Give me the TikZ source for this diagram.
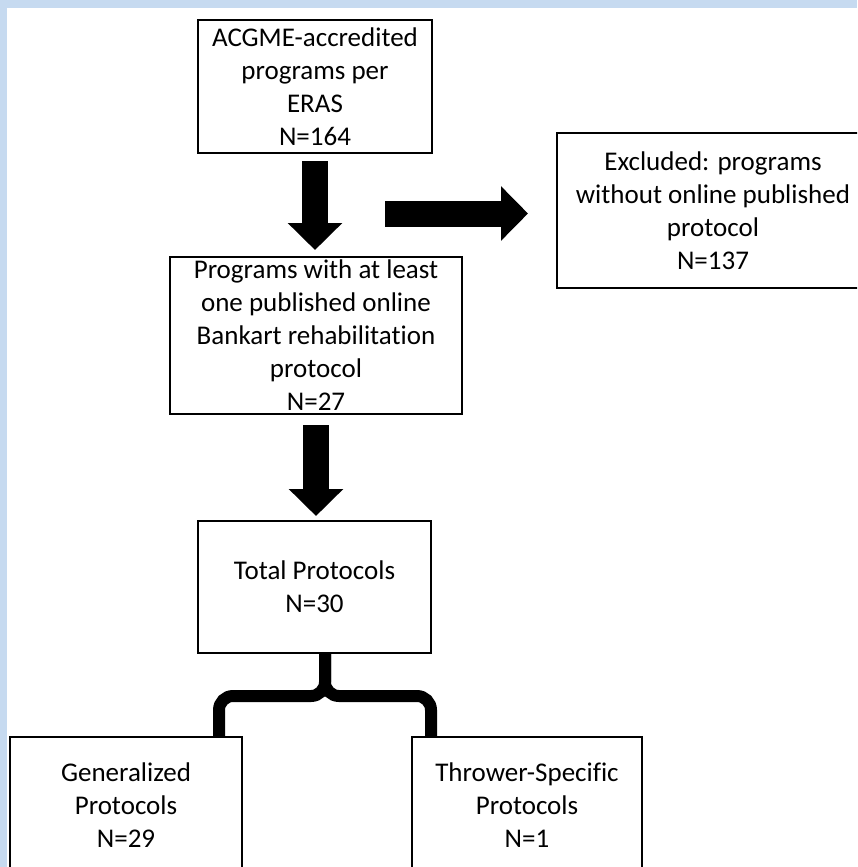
\documentclass[tikz,border=0pt]{standalone}
\usepackage{fontspec}
\setmainfont[Ligatures={NoCommon}]{Carlito}
\usetikzlibrary{arrows.meta}
\definecolor{bgblue}{RGB}{198,218,240}
\begin{document}
\begin{tikzpicture}[x=1pt,y=-1pt,
  box/.style={draw, line width=2pt, inner sep=0pt, align=center,
    font=\fontsize{27}{33}\selectfont, text=black},
  blockarrow/.style={line width=26pt, -{Triangle[length=27pt,width=53pt]}},
  bracelink/.style={line width=12pt, rounded corners=14pt}]
\fill[bgblue] (0,0) rectangle (857,867);
\fill[white] (7,8) rectangle (857,867);
\useasboundingbox (0,0) rectangle (857,867);
\clip (0,0) rectangle (857,867);

\node[box, minimum width=234pt, minimum height=133pt] (acgme) at (315,86.5)
  {ACGME-accredited\\programs per\\ERAS\\N=164};
\node[box, minimum width=292pt, minimum height=157pt] (prog) at (316,335.5)
  {Programs with at least\\one published online\\Bankart rehabilitation\\protocol\\N=27};
\node[box, minimum width=312pt, minimum height=155pt] (excl) at (713,210.5)
  {Excluded: programs\\without online published\\protocol\\N=137};
\node[box, minimum width=233pt, minimum height=132pt] (tot) at (314.5,587)
  {Total Protocols\\N=30};
\node[box, minimum width=232pt, minimum height=137pt] (gen) at (126,805.5)
  {Generalized\\Protocols\\N=29};
\node[box, minimum width=230pt, minimum height=137pt] (thr) at (527,805.5)
  {Thrower-Specific\\Protocols\\N=1};

% block arrows
\draw[blockarrow] ([yshift=-7pt]acgme.south) -- ([yshift=6pt]acgme.south |- prog.north);
\draw[blockarrow] ([yshift=-10pt]prog.south) -- ([yshift=4pt]prog.south |- tot.north);
\coordinate (ra) at (385,213.5);
\draw[blockarrow] (ra) -- ([xshift=-28pt]ra -| excl.west);

% brace connector
\coordinate (stem) at ([xshift=10.5pt]tot.south);
\coordinate (bl) at ([xshift=93pt]gen.north);
\coordinate (br) at ([xshift=-96pt]thr.north);
\draw[bracelink] (stem) -- (stem |- 0,696) -- (bl |- 0,696) -- (bl);
\draw[bracelink] (stem) -- (stem |- 0,696) -- (br |- 0,696) -- (br);
\end{tikzpicture}
\end{document}
